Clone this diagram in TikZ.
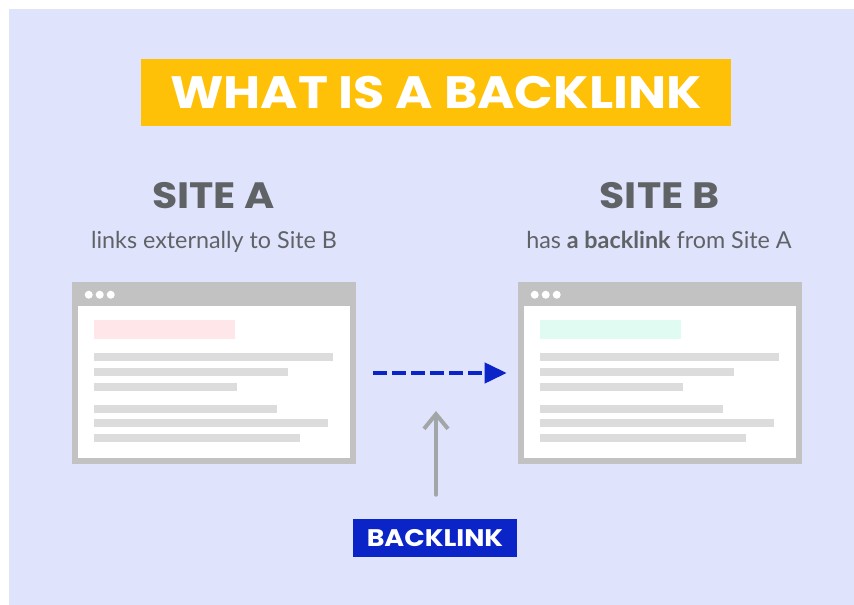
\documentclass[tikz,border=0pt]{standalone}
\usepackage{fontspec}
\setmainfont{Lato}
\newfontfamily\headfont{Poppins}[FakeStretch=1.12]
\usetikzlibrary{positioning, arrows.meta, calc}
\definecolor{bgLavender}{HTML}{E0E3FC}
\definecolor{titleAmber}{HTML}{FFC107}
\definecolor{siteGray}{HTML}{5F6366}
\definecolor{frameGray}{HTML}{C2C2C2}
\definecolor{lineGray}{HTML}{DCDCDC}
\definecolor{linkBlue}{HTML}{0A24C8}
\definecolor{pointerGray}{HTML}{A2A6A6}
\definecolor{pinkBar}{HTML}{FFE6E9}
\definecolor{mintBar}{HTML}{E0FBF2}
\tikzset{
    titlebox/.style={fill=titleAmber, text=white, minimum width=442.5pt, minimum height=50.25pt, inner sep=0pt, font=\headfont\bfseries\fontsize{34}{34}\selectfont},
    sitehead/.style={text=siteGray, anchor=base, inner sep=0pt, font=\headfont\bfseries\fontsize{27.5}{27.5}\selectfont},
    sitenote/.style={text=siteGray, anchor=base, inner sep=0pt, font=\fontsize{17.5}{17.5}\selectfont},
    winbox/.style={fill=frameGray, minimum width=213pt, minimum height=136.5pt, inner sep=0pt},
    labelbox/.style={fill=linkBlue, text=white, minimum width=123pt, minimum height=28.5pt, inner sep=0pt, font=\headfont\bfseries\fontsize{18}{18}\selectfont},
    linkarrow/.style={-{Triangle[length=16.5pt,width=15pt]}, linkBlue, line width=3pt, dash pattern=on 10.5pt off 3.75pt},
    pointer/.style={-{Straight Barb[length=11pt,width=18pt]}, pointerGray, line width=3pt, line cap=round},
}

\begin{document}
\begin{tikzpicture}[x=0.75pt, y=-0.75pt]
\useasboundingbox (0,0) rectangle (854,605);
\fill[bgLavender] (9,9) rectangle (854,605);

\node[titlebox] (title) at (436,92.5) {WHAT IS A BACKLINK};

\node[sitehead] (headA) at (213.5,209) {SITE A};
\node[sitenote] (noteA) at (214,249) {links externally to Site B};
\node[sitehead] (headB) at (659.5,209) {SITE B};
\node[sitenote] (noteB) at (659,249) {has \textbf{a backlink} from Site A};

\node[winbox] (siteA) at (214,373) {};
\node[winbox] (siteB) at (660,373) {};

% page mock-up inside each window
\foreach \win/\mark in {siteA/pinkBar, siteB/mintBar} {
  \begin{scope}[shift={(\win.north west)}]
    \fill[white] (6,24) rectangle (278,176);
    \foreach \dx in {17,28,39}
      \fill[white] (\dx,13) circle (3pt);
    \fill[\mark] (22,38) rectangle (163,57);
    \foreach \ytop/\xend in {71/261, 86/216, 101/165, 123/205, 137/256, 152/228}
      \fill[lineGray] (22,\ytop) rectangle (\xend,\ytop+8.5);
  \end{scope}
}

\draw[linkarrow, shorten <=12.75pt, shorten >=8.25pt] (siteA) -- (siteB);

\node[labelbox] (label) at (435,538) {BACKLINK};
\coordinate (tip) at (436,411);
\draw[pointer, shorten <=18pt] (label.north -| tip) -- (tip);
\end{tikzpicture}
\end{document}
